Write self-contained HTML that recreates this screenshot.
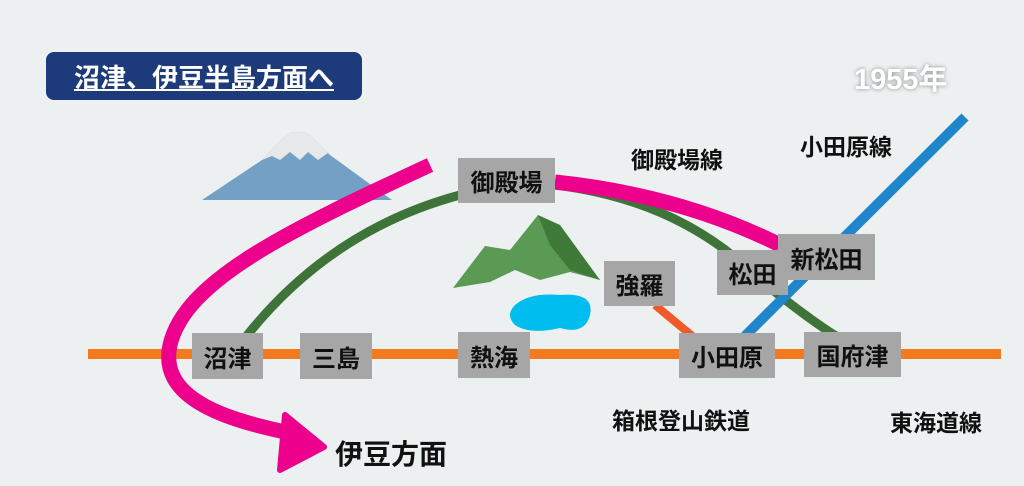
<!DOCTYPE html>
<html><head><meta charset="utf-8"><style>
body{margin:0;width:1024px;height:486px;background:#ecf0f1;overflow:hidden;position:relative;font-family:"Liberation Sans","Noto Sans CJK JP",sans-serif;font-weight:bold}
.b{position:absolute;background:#a6a6a6;color:#111;font-size:24px;display:flex;align-items:center;justify-content:center}
.t{position:absolute;color:#111;font-size:23px;white-space:nowrap}
</style></head><body>
<svg width="1024" height="486" style="position:absolute;left:0;top:0">
<!-- fuji -->
<path d="M202,200 L262,160 Q280,140 290,133 Q300,130 310,135 L330,155 L392,200 Z" fill="#74a0c6"/>
<path d="M262,160 Q280,140 290,133 Q300,130 310,135 L328,153 L318,160 L308,152 L300,160 L290,152 L280,160 L272,156 Z" fill="#e6e8ea"/>
<!-- green mountain -->
<polygon points="453,288 485,246 510,250 538,215 600,280 570,272 540,280 515,270 490,282" fill="#5a9a55"/>
<polygon points="538,215 560,225 600,280 570,270 550,245" fill="#3f7a38"/>
<!-- lake -->
<path d="M515,305 Q530,292 560,295 Q595,292 590,315 Q585,335 560,328 Q530,335 515,325 Q505,315 515,305Z" fill="#00bdf0"/>
<!-- orange main -->
<line x1="88" y1="354" x2="1001" y2="354" stroke="#f47a20" stroke-width="10"/>
<line x1="655" y1="305" x2="697" y2="340" stroke="#f05a28" stroke-width="8"/>
<!-- green -->
<path d="M245,338 Q330,230 460,195" stroke="#3e733a" stroke-width="9" fill="none"/>
<path d="M555,185 Q680,200 760,280 Q810,320 836,336" stroke="#3e733a" stroke-width="9" fill="none"/>
<!-- blue -->
<line x1="965" y1="117" x2="745" y2="336" stroke="#1f86cc" stroke-width="10"/>
<!-- pink -->
<path d="M555,182 Q680,195 780,245" stroke="#ec008c" stroke-width="15" fill="none"/>
<path d="M430,165 C290,230 185,280 170,345 C158,400 230,420 285,432" stroke="#ec008c" stroke-width="15" fill="none"/>
<polygon points="285,415 324,447 280,470" fill="#ec008c" stroke="#ec008c" stroke-width="6" stroke-linejoin="round"/>
</svg>
<div style="position:absolute;left:46px;top:52px;width:316px;height:48px;background:#1d3b7a;border-radius:8px;color:#fff;font-size:26px;display:flex;align-items:center;justify-content:center;text-decoration:underline">沼津、伊豆半島方面へ</div>
<div class="t" style="left:854px;top:56px;color:#fff;font-size:29px;text-shadow:0 0 4px #888">1955年</div>
<div class="b" style="left:458px;top:158px;width:97px;height:45px">御殿場</div>
<div class="b" style="left:604px;top:261px;width:71px;height:45px">強羅</div>
<div class="b" style="left:717px;top:250px;width:71px;height:45px">松田</div>
<div class="b" style="left:778px;top:234px;width:97px;height:46px">新松田</div>
<div class="b" style="left:679px;top:333px;width:96px;height:45px">小田原</div>
<div class="b" style="left:804px;top:332px;width:97px;height:45px">国府津</div>
<div class="b" style="left:192px;top:333px;width:71px;height:46px">沼津</div>
<div class="b" style="left:300px;top:333px;width:72px;height:46px">三島</div>
<div class="b" style="left:458px;top:332px;width:72px;height:46px">熱海</div>
<div class="t" style="left:631px;top:141px">御殿場線</div>
<div class="t" style="left:800px;top:128px">小田原線</div>
<div class="t" style="left:612px;top:402px">箱根登山鉄道</div>
<div class="t" style="left:890px;top:404px">東海道線</div>
<div class="t" style="left:335px;top:433px;font-size:28px">伊豆方面</div>
</body></html>
